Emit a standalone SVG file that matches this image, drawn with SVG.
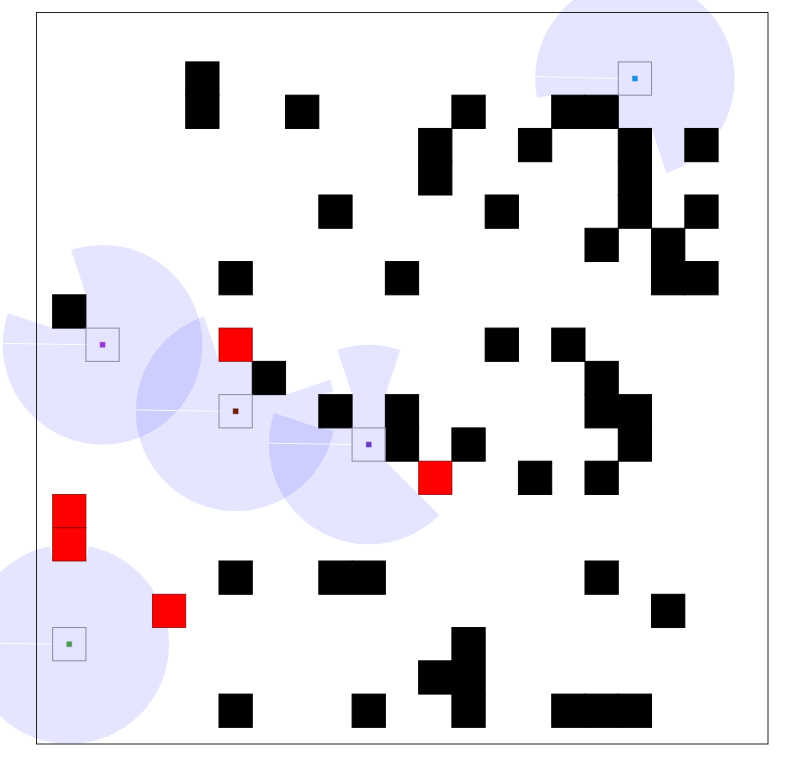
<svg xmlns="http://www.w3.org/2000/svg" width="800" height="770" viewBox="0 0 800 770">
<style>
.fov{fill:#0000ff;fill-opacity:0.1}
.seam{stroke:#ffffff;stroke-width:0.03;stroke-opacity:0.85}
.ob{fill:#000;stroke:#000;stroke-width:1}
.rd{fill:#ff0000;stroke:#8b0000;stroke-width:1;stroke-opacity:0.8}
.ag{fill:none;stroke:#8a8aa6;stroke-width:1}
.dot{stroke-width:1;stroke-opacity:0.45}
</style>
<defs>
<mask id="m-cyan" maskUnits="userSpaceOnUse" x="-4" y="-4" width="8" height="8">
<rect x="-4" y="-4" width="8" height="8" fill="#fff"/>
<polygon fill="#000" points="0.5,1.5 -0.5,1.5 -0.5,0.5 -2.5,0.5 -25,5 -10,25 5,15"/>
<polygon fill="#000" points="2.5,1.5 25,15 15,25 1.5,2.5"/>
</mask>
<mask id="m-purple" maskUnits="userSpaceOnUse" x="-4" y="-4" width="8" height="8">
<rect x="-4" y="-4" width="8" height="8" fill="#fff"/>
<polygon fill="#000" points="-1.5,-0.5 -0.5,-0.5 -0.5,-1.5 -5,-15 -15,-5"/>
</mask>
<mask id="m-brown" maskUnits="userSpaceOnUse" x="-4" y="-4" width="8" height="8">
<rect x="-4" y="-4" width="8" height="8" fill="#fff"/>
<polygon fill="#000" points="-0.5,-1.5 0.5,-1.5 0.5,-0.5 1.5,-0.5 15,-5 5,-25 -5,-15"/>
<polygon fill="#000" points="2.5,-0.5 25,-5 25,5 2.5,0.5"/>
</mask>
<mask id="m-bp" maskUnits="userSpaceOnUse" x="-4" y="-4" width="8" height="8">
<rect x="-4" y="-4" width="8" height="8" fill="#fff"/>
<polygon fill="#000" points="-1.5,-0.5 -0.5,-0.5 -0.5,-1.5 -5,-15 -15,-5"/>
<polygon fill="#000" points="0.5,-1.5 0.5,0.5 15,15 25,0 5,-15"/>
</mask>
<mask id="m-green" maskUnits="userSpaceOnUse" x="-4" y="-4" width="8" height="8">
<rect x="-4" y="-4" width="8" height="8" fill="#fff"/>
<polygon fill="#000" points="-0.5,-2.5 -5,-25 5,-25 0.5,-2.5"/>
<polygon fill="#000" points="2.5,-1.5 25,-15 25,-5 2.5,-0.5"/>
</mask>
</defs>
<rect x="0" y="0" width="800" height="770" fill="#ffffff"/>
<g id="fields">
<g id="fov-cyan" transform="translate(634.91,78.55) scale(33.2727)"><circle class="fov" r="3" mask="url(#m-cyan)"/><line class="seam" x1="-0.45" y1="0" x2="-3" y2="-0.06"/></g>
<g id="fov-purple" transform="translate(102.55,344.73) scale(33.2727)"><circle class="fov" r="3" mask="url(#m-purple)"/><line class="seam" x1="-0.45" y1="0" x2="-3" y2="-0.04"/></g>
<g id="fov-brown" transform="translate(235.64,411.27) scale(33.2727)"><circle class="fov" r="3" mask="url(#m-brown)"/><line class="seam" x1="-0.45" y1="0" x2="-3" y2="-0.04"/></g>
<g id="fov-bp" transform="translate(368.73,444.55) scale(33.2727)"><circle class="fov" r="3" mask="url(#m-bp)"/><line class="seam" x1="-0.45" y1="0" x2="-3" y2="-0.04"/></g>
<g id="fov-green" transform="translate(69.27,644.18) scale(33.2727)"><circle class="fov" r="3" mask="url(#m-green)"/><line class="seam" x1="-0.45" y1="0" x2="-3" y2="-0.04"/></g>
</g>
<rect id="border" x="36.5" y="12.5" width="731.5" height="731.5" fill="none" stroke="#222" stroke-width="1"/>
<g id="obstacles">
<rect class="ob" x="185.73" y="61.91" width="33.27" height="33.27"/>
<rect class="ob" x="185.73" y="95.18" width="33.27" height="33.27"/>
<rect class="ob" x="285.55" y="95.18" width="33.27" height="33.27"/>
<rect class="ob" x="451.91" y="95.18" width="33.27" height="33.27"/>
<rect class="ob" x="551.73" y="95.18" width="33.27" height="33.27"/>
<rect class="ob" x="585.00" y="95.18" width="33.27" height="33.27"/>
<rect class="ob" x="418.64" y="128.45" width="33.27" height="33.27"/>
<rect class="ob" x="418.64" y="161.73" width="33.27" height="33.27"/>
<rect class="ob" x="518.45" y="128.45" width="33.27" height="33.27"/>
<rect class="ob" x="618.27" y="128.45" width="33.27" height="33.27"/>
<rect class="ob" x="618.27" y="161.73" width="33.27" height="33.27"/>
<rect class="ob" x="618.27" y="195.00" width="33.27" height="33.27"/>
<rect class="ob" x="684.82" y="128.45" width="33.27" height="33.27"/>
<rect class="ob" x="318.82" y="195.00" width="33.27" height="33.27"/>
<rect class="ob" x="485.18" y="195.00" width="33.27" height="33.27"/>
<rect class="ob" x="684.82" y="195.00" width="33.27" height="33.27"/>
<rect class="ob" x="585.00" y="228.27" width="33.27" height="33.27"/>
<rect class="ob" x="651.55" y="228.27" width="33.27" height="33.27"/>
<rect class="ob" x="651.55" y="261.55" width="33.27" height="33.27"/>
<rect class="ob" x="684.82" y="261.55" width="33.27" height="33.27"/>
<rect class="ob" x="219.00" y="261.55" width="33.27" height="33.27"/>
<rect class="ob" x="385.36" y="261.55" width="33.27" height="33.27"/>
<rect class="ob" x="52.64" y="294.82" width="33.27" height="33.27"/>
<rect class="ob" x="485.18" y="328.09" width="33.27" height="33.27"/>
<rect class="ob" x="551.73" y="328.09" width="33.27" height="33.27"/>
<rect class="ob" x="252.27" y="361.36" width="33.27" height="33.27"/>
<rect class="ob" x="585.00" y="361.36" width="33.27" height="33.27"/>
<rect class="ob" x="585.00" y="394.64" width="33.27" height="33.27"/>
<rect class="ob" x="618.27" y="394.64" width="33.27" height="33.27"/>
<rect class="ob" x="618.27" y="427.91" width="33.27" height="33.27"/>
<rect class="ob" x="318.82" y="394.64" width="33.27" height="33.27"/>
<rect class="ob" x="385.36" y="394.64" width="33.27" height="33.27"/>
<rect class="ob" x="385.36" y="427.91" width="33.27" height="33.27"/>
<rect class="ob" x="451.91" y="427.91" width="33.27" height="33.27"/>
<rect class="ob" x="518.45" y="461.18" width="33.27" height="33.27"/>
<rect class="ob" x="585.00" y="461.18" width="33.27" height="33.27"/>
<rect class="ob" x="219.00" y="561.00" width="33.27" height="33.27"/>
<rect class="ob" x="318.82" y="561.00" width="33.27" height="33.27"/>
<rect class="ob" x="352.09" y="561.00" width="33.27" height="33.27"/>
<rect class="ob" x="585.00" y="561.00" width="33.27" height="33.27"/>
<rect class="ob" x="651.55" y="594.27" width="33.27" height="33.27"/>
<rect class="ob" x="451.91" y="627.55" width="33.27" height="33.27"/>
<rect class="ob" x="451.91" y="660.82" width="33.27" height="33.27"/>
<rect class="ob" x="451.91" y="694.09" width="33.27" height="33.27"/>
<rect class="ob" x="418.64" y="660.82" width="33.27" height="33.27"/>
<rect class="ob" x="219.00" y="694.09" width="33.27" height="33.27"/>
<rect class="ob" x="352.09" y="694.09" width="33.27" height="33.27"/>
<rect class="ob" x="551.73" y="694.09" width="33.27" height="33.27"/>
<rect class="ob" x="585.00" y="694.09" width="33.27" height="33.27"/>
<rect class="ob" x="618.27" y="694.09" width="33.27" height="33.27"/>
</g>
<g id="targets">
<rect class="rd" x="219.00" y="328.09" width="33.27" height="33.27"/>
<rect class="rd" x="418.64" y="461.18" width="33.27" height="33.27"/>
<rect class="rd" x="52.64" y="494.45" width="33.27" height="33.27"/>
<rect class="rd" x="52.64" y="527.73" width="33.27" height="33.27"/>
<rect class="rd" x="152.45" y="594.27" width="33.27" height="33.27"/>
</g>
<g id="agent-cyan"><rect class="ag" x="618.27" y="61.91" width="33.27" height="33.27"/><rect class="dot" x="632.4" y="76.05" width="5" height="5" fill="#1e90e0" stroke="#1e90e0"/></g>
<g id="agent-purple"><rect class="ag" x="85.91" y="328.09" width="33.27" height="33.27"/><rect class="dot" x="100.05" y="342.23" width="5" height="5" fill="#9b35d6" stroke="#9b35d6"/></g>
<g id="agent-brown"><rect class="ag" x="219.00" y="394.64" width="33.27" height="33.27"/><rect class="dot" x="233.14" y="408.77" width="5" height="5" fill="#6b1d05" stroke="#6b1d05"/></g>
<g id="agent-bp"><rect class="ag" x="352.09" y="427.91" width="33.27" height="33.27"/><rect class="dot" x="366.23" y="442.05" width="5" height="5" fill="#6a3cc4" stroke="#6a3cc4"/></g>
<g id="agent-green"><rect class="ag" x="52.64" y="627.55" width="33.27" height="33.27"/><rect class="dot" x="66.77" y="641.68" width="5" height="5" fill="#4c9a56" stroke="#4c9a56"/></g>
</svg>
